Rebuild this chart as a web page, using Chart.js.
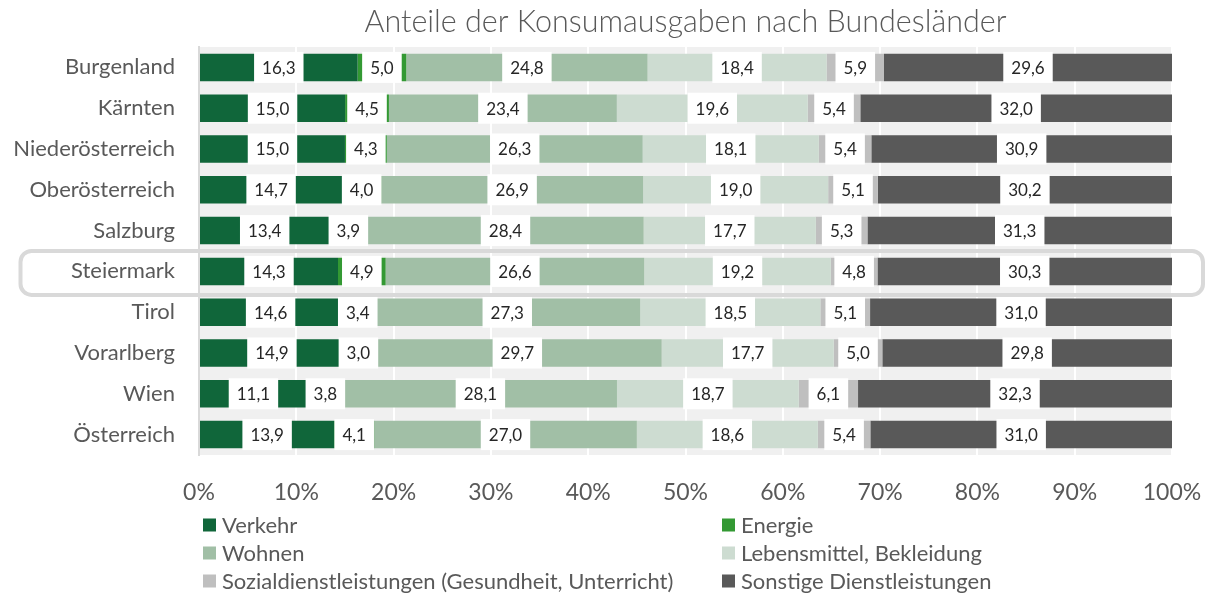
<!DOCTYPE html>
<html><head><meta charset="utf-8">
<script src="https://cdn.jsdelivr.net/npm/chart.js@4.4.1/dist/chart.umd.min.js"></script>
<style>
html,body{margin:0;padding:0;background:#fff;}
#wrap{position:relative;width:1211px;height:593px;}
canvas{position:absolute;left:0;top:0;}
</style></head>
<body><div id="wrap"><canvas id="c" width="1211" height="593"></canvas></div>
<script>
const chartTitle = 'Anteile der Konsumausgaben nach Bundesländer';
const categories = ['Burgenland','Kärnten','Niederösterreich','Oberösterreich','Salzburg','Steiermark','Tirol','Vorarlberg','Wien','Österreich'];
const seriesNames = ['Verkehr','Energie','Wohnen','Lebensmittel, Bekleidung','Sozialdienstleistungen (Gesundheit, Unterricht)','Sonstige Dienstleistungen'];
const verkehr      = [16.3,15.0,15.0,14.7,13.4,14.3,14.6,14.9,11.1,13.9];
const energie      = [ 5.0, 4.5, 4.3, 4.0, 3.9, 4.9, 3.4, 3.0, 3.8, 4.1];
const wohnen       = [24.8,23.4,26.3,26.9,28.4,26.6,27.3,29.7,28.1,27.0];
const lebensmittel = [18.4,19.6,18.1,19.0,17.7,19.2,18.5,17.7,18.7,18.6];
const sozial       = [ 5.9, 5.4, 5.4, 5.1, 5.3, 4.8, 5.1, 5.0, 6.1, 5.4];
const sonstige     = [29.6,32.0,30.9,30.2,31.3,30.3,31.0,29.8,32.3,31.0];
const highlighted = 'Steiermark';

const colors = ['#10663a','#339933','#a1bfa6','#cddcd1','#bfbfbf','#595959'];
const seriesValues = [verkehr, energie, wohnen, lebensmittel, sozial, sonstige];
const totals = categories.map((c, j) => seriesValues.reduce((s, arr) => s + arr[j], 0));

const FONT = 'Lato, "Open Sans", sans-serif';
const TXT = '#595959';

const datasets = seriesNames.map((name, i) => ({
  label: name,
  data: seriesValues[i].map((v, j) => v / totals[j] * 100),
  raw: seriesValues[i],
  backgroundColor: colors[i],
  borderWidth: 0,
  categoryPercentage: 1,
  barPercentage: 0.675
}));

const bgPlugin = {
  id: 'bg',
  beforeDraw(chart) {
    const {ctx, chartArea: a} = chart;
    ctx.save();
    ctx.fillStyle = '#f0f0f0';
    ctx.fillRect(a.left, a.top, a.right - a.left, a.bottom - a.top);
    ctx.restore();
  }
};

const labelPlugin = {
  id: 'labels',
  afterDatasetsDraw(chart) {
    const ctx = chart.ctx;
    ctx.save();
    ctx.font = '17px ' + FONT;
    ctx.textAlign = 'center';
    ctx.textBaseline = 'middle';
    chart.data.datasets.forEach((ds, i) => {
      chart.getDatasetMeta(i).data.forEach((el, j) => {
        const cx = (el.x + el.base) / 2, cy = el.y;
        const txt = ds.raw[j].toFixed(1).replace('.', ',');
        const w = ctx.measureText(txt).width + 16, h = 31;
        ctx.fillStyle = '#ffffff';
        ctx.fillRect(cx - w / 2, cy - h / 2, w, h);
        ctx.fillStyle = '#262626';
        ctx.fillText(txt, cx, cy + 1);
      });
    });
    ctx.restore();
  }
};

const decoPlugin = {
  id: 'deco',
  afterDraw(chart) {
    const ctx = chart.ctx, a = chart.chartArea;
    ctx.save();
    // title
    ctx.fillStyle = TXT;
    ctx.font = '300 30.5px ' + FONT;
    ctx.textAlign = 'center';
    ctx.textBaseline = 'middle';
    ctx.fillText(chartTitle, (a.left + a.right) / 2, 22);
    // highlight box
    const yS = chart.scales.y;
    const yc = yS.getPixelForValue(categories.indexOf(highlighted));
    ctx.strokeStyle = '#d9d9d9';
    ctx.lineWidth = 4;
    ctx.beginPath();
    ctx.roundRect(20.5, yc - 20.5, 1182.5, 44, 11);
    ctx.stroke();
    // legend
    ctx.font = '22px ' + FONT;
    ctx.textAlign = 'left';
    const colX = [203, 722];
    seriesNames.forEach((name, k) => {
      const x = colX[k % 2], y = 525 + Math.floor(k / 2) * 28;
      ctx.fillStyle = colors[k];
      ctx.fillRect(x, y - 6.5, 13, 13);
      ctx.fillStyle = TXT;
      ctx.fillText(name, x + 19, y + 1);
    });
    ctx.restore();
  }
};

new Chart(document.getElementById('c'), {
  type: 'bar',
  data: { labels: categories, datasets },
  plugins: [bgPlugin, labelPlugin, decoPlugin],
  options: {
    indexAxis: 'y',
    responsive: false,
    animation: false,
    layout: { padding: { left: 0, right: 39, top: 47, bottom: 0 } },
    plugins: { legend: { display: false }, title: { display: false }, tooltip: { enabled: false } },
    scales: {
      x: {
        stacked: true, min: 0, max: 100,
        ticks: { stepSize: 10, callback: v => v + '%', font: { family: FONT, size: 23 }, color: TXT, padding: 24, maxRotation: 0 },
        grid: { color: '#ffffff', lineWidth: 2, drawTicks: false },
        border: { display: false },
        afterFit: s => { s.height = 138; s.paddingLeft = 0; s.paddingRight = 0; }
      },
      y: {
        stacked: true,
        ticks: { font: { family: FONT, size: 22 }, color: TXT, padding: 24 },
        grid: { display: false, drawTicks: false },
        border: { color: '#d9d9d9', width: 2 },
        afterFit: s => { s.width = 199; }
      }
    }
  }
});
</script>
</body></html>
